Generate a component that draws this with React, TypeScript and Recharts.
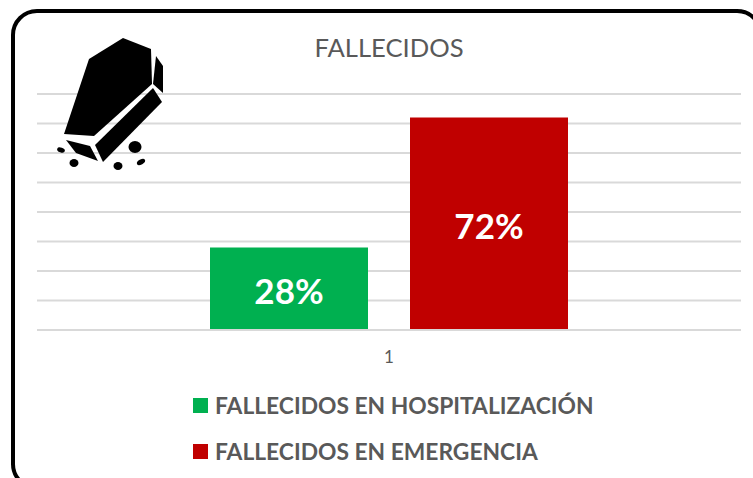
import { Bar, BarChart, CartesianGrid, LabelList, Legend, Text, XAxis, YAxis } from "recharts";

const categories = ["1"];
const hospitalizacion = [0.28];
const emergencia = [0.72];
const yTicks = [0, 0.1, 0.2, 0.3, 0.4, 0.5, 0.6, 0.7, 0.8];

const seriesNames = ["FALLECIDOS EN HOSPITALIZACIÓN", "FALLECIDOS EN EMERGENCIA"];
const seriesColors = ["#00b050", "#c00000"];

const data = categories.map((name, i) => ({
  name,
  hospitalizacion: hospitalizacion[i],
  emergencia: emergencia[i],
}));

const FONT = "Lato, 'Open Sans', sans-serif";

function CoffinIcon() {
  return (
    <svg width={120} height={140} viewBox="0 0 120 140" style={{ position: "absolute", left: 50, top: 30 }}>
      <g transform="translate(-50,-30)" fill="#000">
        <polygon points="89,59 123,38 151,49 152,84 94,136 64,134" />
        <polygon points="156,56 163,66 163,93 153,84" />
        <polygon points="153,88 162,102 103,162 95,145" />
        <polygon points="66,140 90,146 98,161 76,153" />
        <ellipse cx="135" cy="147" rx="6.5" ry="6" />
        <ellipse cx="61" cy="150" rx="4" ry="2.5" transform="rotate(20 61 150)" />
        <ellipse cx="74" cy="163" rx="4.5" ry="4" />
        <ellipse cx="118" cy="166" rx="4.5" ry="4" />
        <ellipse cx="141" cy="162" rx="4.5" ry="2.5" transform="rotate(-30 141 162)" />
      </g>
    </svg>
  );
}

function LegendList() {
  return (
    <div style={{ fontFamily: FONT }}>
      {seriesNames.map((n, i) => (
        <div
          key={n}
          style={{ display: "flex", alignItems: "center", height: 46, fontSize: 22.8, fontWeight: 700, color: "#595959", whiteSpace: "nowrap" }}
        >
          <span style={{ width: 15, height: 15, background: seriesColors[i], marginRight: 7 }} />
          {n}
        </div>
      ))}
    </div>
  );
}

export default function App() {
  return (
    <div style={{ position: "absolute", left: 0, top: 0, width: 753, height: 478, overflow: "hidden", background: "#fff" }}>
      <BarChart
        width={753}
        height={478}
        data={data}
        margin={{ top: 94, right: 12, bottom: 118, left: 37 }}
        barGap={42}
        barSize={158}
      >
        <CartesianGrid horizontal vertical={false} stroke="#d9d9d9" strokeWidth={2} />
        <XAxis
          dataKey="name"
          height={30}
          axisLine={{ stroke: "#d9d9d9", strokeWidth: 2 }}
          tickLine={false}
          tick={{ fontSize: 17, fill: "#595959", fontFamily: FONT }}
          tickMargin={15}
        />
        <YAxis hide domain={[0, 0.8]} ticks={yTicks} interval={0} />
        <Legend
          layout="vertical"
          align="center"
          verticalAlign="middle"
          wrapperStyle={{ left: 193, top: 382, width: "auto" }}
          content={<LegendList />}
        />
        <Bar dataKey="hospitalizacion" fill={seriesColors[0]} isAnimationActive={false}>
          <LabelList
            dataKey="hospitalizacion"
            position="center"
            dy={3}
            formatter={(v: number) => `${Math.round(v * 100)}%`}
            style={{ fontSize: 35, fontWeight: 700, fill: "#fff", fontFamily: FONT }}
          />
        </Bar>
        <Bar dataKey="emergencia" fill={seriesColors[1]} isAnimationActive={false}>
          <LabelList
            dataKey="emergencia"
            position="center"
            dy={3}
            formatter={(v: number) => `${Math.round(v * 100)}%`}
            style={{ fontSize: 35, fontWeight: 700, fill: "#fff", fontFamily: FONT }}
          />
        </Bar>
        <Text x={389} y={48} textAnchor="middle" verticalAnchor="middle" fontSize={25.6} fill="#595959" fontFamily={FONT}>
          FALLECIDOS
        </Text>
      </BarChart>
      <CoffinIcon />
      <div
        style={{
          position: "absolute",
          left: 11,
          top: 9,
          width: 752,
          height: 481,
          border: "4px solid #000",
          borderRadius: 26,
          boxSizing: "border-box",
          pointerEvents: "none",
        }}
      />
    </div>
  );
}
